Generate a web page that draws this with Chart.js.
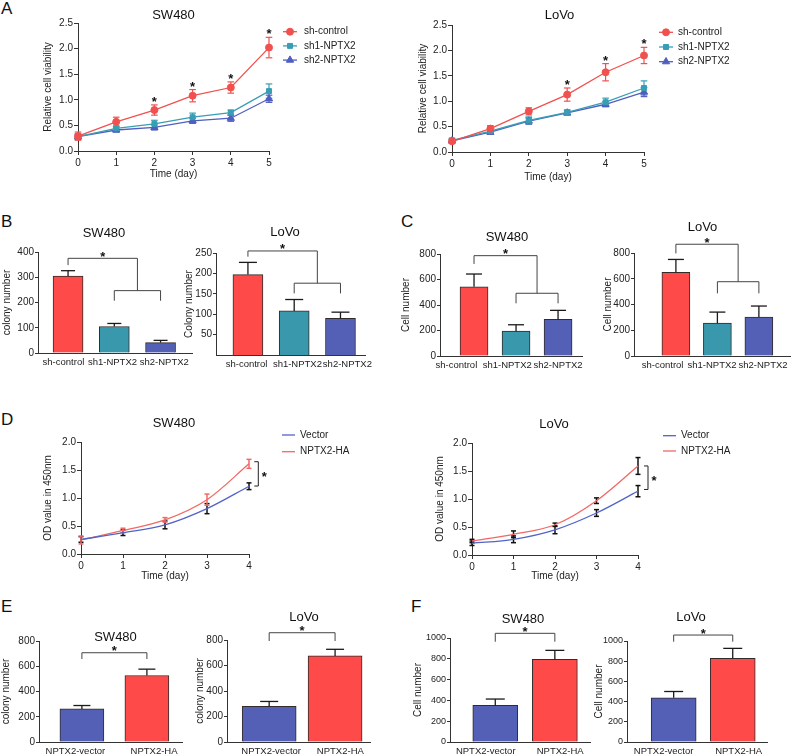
<!DOCTYPE html>
<html>
<head>
<meta charset="utf-8">
<title>NPTX2 proliferation panels</title>
<script src="https://cdn.jsdelivr.net/npm/chart.js@4.4.1/dist/chart.umd.min.js"></script>
<style>
  html, body { margin: 0; padding: 0; background: #fff; }
  #fig { position: relative; width: 792px; height: 756px; overflow: hidden; background: #fff; }
  #fig canvas { position: absolute; }
  .tag { position: absolute; font: 17px "Liberation Sans", Arial, sans-serif; line-height: 1; color: #111; }
</style>
</head>
<body>
<div id="fig">
  <div class="tag" style="left:1px;top:0px">A</div>
  <div class="tag" style="left:1px;top:213px">B</div>
  <div class="tag" style="left:401px;top:213px">C</div>
  <div class="tag" style="left:1px;top:411px">D</div>
  <div class="tag" style="left:1px;top:598px">E</div>
  <div class="tag" style="left:411px;top:598px">F</div>
</div>
<script>
// ---- data ----
const days5 = [0, 1, 2, 3, 4, 5];
const days4 = [0, 1, 2, 3, 4];
const shGroups = ['sh-control', 'sh1-NPTX2', 'sh2-NPTX2'];
const oeGroups = ['NPTX2-vector', 'NPTX2-HA'];

// A - relative cell viability
const aSwCtrl = [0.29, 0.57, 0.80, 1.08, 1.24, 2.02];
const aSwCtrlErr = [0.08, 0.09, 0.10, 0.12, 0.11, 0.20];
const aSwSh1 = [0.28, 0.44, 0.53, 0.66, 0.75, 1.17];
const aSwSh1Err = [0.05, 0.05, 0.07, 0.08, 0.05, 0.14];
const aSwSh2 = [0.28, 0.41, 0.46, 0.59, 0.64, 1.02];
const aSwSh2Err = [0.05, 0.04, 0.05, 0.05, 0.06, 0.07];
const aSwStars = [2, 3, 4, 5];

const aLvCtrl = [0.21, 0.46, 0.80, 1.13, 1.57, 1.90];
const aLvCtrlErr = [0.04, 0.06, 0.07, 0.13, 0.17, 0.16];
const aLvSh1 = [0.23, 0.41, 0.62, 0.78, 0.98, 1.26];
const aLvSh1Err = [0.04, 0.04, 0.07, 0.05, 0.08, 0.14];
const aLvSh2 = [0.22, 0.39, 0.61, 0.77, 0.94, 1.18];
const aLvSh2Err = [0.03, 0.04, 0.06, 0.04, 0.05, 0.09];
const aLvStars = [3, 4, 5];

// B - colony number
const bSwColony = [305, 105, 41];
const bSwColonyErr = [21, 12, 9];
const bSwBracket = [375, 348, 247, 207];
const bLvColony = [197, 108, 90];
const bLvColonyErr = [30, 28, 15];
const bLvBracket = [255, 241, 176, 151];

// C - cell number
const cSwCell = [543, 195, 288];
const cSwCellErr = [100, 50, 70];
const cSwBracket = [787, 722, 492, 413];
const cLvCell = [650, 255, 302];
const cLvCellErr = [100, 86, 86];
const cLvBracket = [868, 797, 577, 487];

// D - OD value in 450nm
const dSwVector = [0.26, 0.38, 0.52, 0.81, 1.21];
const dSwVectorErr = [0.05, 0.05, 0.07, 0.09, 0.06];
const dSwHA = [0.25, 0.42, 0.61, 0.97, 1.61];
const dSwHAErr = [0.07, 0.04, 0.04, 0.10, 0.08];
const dSwBracket = [4, 1.648, 1.214];
const dLvVector = [0.21, 0.28, 0.45, 0.75, 1.14];
const dLvVectorErr = [0.04, 0.06, 0.07, 0.06, 0.10];
const dLvHA = [0.25, 0.37, 0.54, 0.97, 1.59];
const dLvHAErr = [0.03, 0.06, 0.03, 0.05, 0.15];
const dLvBracket = [4, 1.59, 1.17];

// E - colony number (overexpression)
const eSwColony = [262, 527];
const eSwColonyErr = [27, 50];
const eSwBracket = [707, 657];
const eLvColony = [279, 675];
const eLvColonyErr = [39, 52];
const eLvBracket = [857, 792];

// F - cell number (overexpression)
const fSwCell = [352, 794];
const fSwCellErr = [61, 87];
const fSwBracket = [1045, 964];
const fLvCell = [437, 828];
const fLvCellErr = [63, 99];
const fLvBracket = [1059, 993];

// ---- styling ----
const FONT = '"Liberation Sans", Arial, Helvetica, sans-serif';
const RED = '#f0514e', TEAL = '#389eb4', BLUE = '#4f5ec0';
const BAR_RED = '#ff4a4a', BAR_TEAL = '#3a98ac', BAR_BLUE = '#5460b6';
const LINE_BLUE = '#5164c8', LINE_RED = '#f26864';

Chart.defaults.font.family = FONT;
Chart.defaults.font.size = 10;
Chart.defaults.color = '#222';
Chart.defaults.animation = false;
Chart.defaults.responsive = false;
Chart.defaults.plugins.legend.display = false;
Chart.defaults.plugins.tooltip.enabled = false;
Chart.defaults.events = [];

const fig = document.getElementById('fig');
const fmt1 = v => v.toFixed(1);
const fmt0 = v => String(v);

function axisY(min, max, step, title, fmt, opt) {
  opt = opt || {};
  return {
    type: 'linear', min, max,
    ticks: { stepSize: step, padding: 1, color: '#222', font: { size: opt.size || 10 }, callback: fmt },
    grid: { display: true, drawOnChartArea: false, drawTicks: true, tickLength: opt.tick || 4, color: '#333' },
    border: { display: true, color: '#333', width: 1 },
    title: { display: true, text: title, padding: 0, color: '#222', font: { size: 10 } },
    afterBuildTicks: opt.drop0 ? (s) => { s.ticks = s.ticks.filter(t => t.value !== 0); } : undefined
  };
}

function axisXLine(max) {
  return {
    type: 'linear', min: 0, max,
    ticks: { stepSize: 1, padding: 2, color: '#222', font: { size: 10 }, maxRotation: 0, callback: fmt0 },
    grid: { display: true, drawOnChartArea: false, drawTicks: true, tickLength: 4, color: '#333' },
    border: { display: true, color: '#333', width: 1 },
    title: { display: true, text: 'Time (day)', padding: 0, color: '#222', font: { size: 10 } }
  };
}

// group labels sit where the original figure put them, a little off the bar centres
function axisXBar(groups, min, max, labelAt) {
  return {
    type: 'linear', min, max, offset: false,
    afterBuildTicks: (s) => { s.ticks = labelAt.map(v => ({ value: v })); },
    ticks: { autoSkip: false, maxRotation: 0, padding: 4, color: '#222', font: { size: 9.5 }, callback: (v, i) => groups[i] },
    grid: { display: false, drawTicks: false, offset: false },
    border: { display: true, color: '#333', width: 1 }
  };
}

function lineSet(label, xs, ys, errs, color, style, extra) {
  return Object.assign({
    label,
    data: xs.map((d, i) => ({ x: d, y: ys[i] })),
    errors: errs,
    borderColor: color, backgroundColor: color, borderWidth: 1.3,
    pointStyle: style || 'circle', pointRadius: style ? 3.5 : 0, pointBorderWidth: 1,
    pointBackgroundColor: color, pointBorderColor: color,
    tension: 0, clip: false
  }, extra || {});
}

function barSet(vals, errs, colors, thick) {
  return {
    data: vals.map((v, i) => ({ x: i, y: v })),
    errors: errs,
    backgroundColor: colors, borderColor: '#332a2a', borderWidth: 1,
    barThickness: thick
  };
}

function seg(ctx, pts) {
  ctx.beginPath();
  pts.forEach((p, i) => i ? ctx.lineTo(p[0], p[1]) : ctx.moveTo(p[0], p[1]));
  ctx.stroke();
}

function star(ctx, x, yc) {
  ctx.save();
  ctx.fillStyle = '#111';
  ctx.font = 'bold 13px ' + FONT;
  ctx.textAlign = 'center';
  ctx.textBaseline = 'alphabetic';
  ctx.fillText('*', x, yc + 7.5);
  ctx.restore();
}

// titles, legends, error bars and significance marks
function deco(box, spec) {
  const cx = v => v - box.x, cy = v => v - box.y;
  return {
    id: 'deco',
    beforeDatasetsDraw(chart) {
      if (spec.kind !== 'line') return;
      const X = chart.scales.x, Y = chart.scales.y, ctx = chart.ctx;
      ctx.save();
      ctx.lineWidth = spec.errWidth;
      chart.data.datasets.forEach(ds => {
        ctx.strokeStyle = ds.errColor || ds.borderColor;
        ds.data.forEach((p, i) => {
          const e = ds.errors[i], x = X.getPixelForValue(p.x);
          const yt = Y.getPixelForValue(p.y + e), yb = Y.getPixelForValue(p.y - e);
          seg(ctx, [[x, yt], [x, yb]]);
          seg(ctx, [[x - spec.cap, yt], [x + spec.cap, yt]]);
          seg(ctx, [[x - spec.cap, yb], [x + spec.cap, yb]]);
        });
      });
      ctx.restore();
    },
    afterDatasetsDraw(chart) {
      const X = chart.scales.x, Y = chart.scales.y, ctx = chart.ctx;
      ctx.save();
      if (spec.kind === 'bar') {
        const ds = chart.data.datasets[0];
        ctx.strokeStyle = '#1a1a1a';
        ctx.lineWidth = 1.3;
        ds.data.forEach((p, i) => {
          const x = X.getPixelForValue(p.x);
          const y0 = Y.getPixelForValue(p.y), y1 = Y.getPixelForValue(p.y + ds.errors[i]);
          seg(ctx, [[x, y0], [x, y1]]);
          seg(ctx, [[x - spec.cap, y1], [x + spec.cap, y1]]);
        });
      }
      ctx.strokeStyle = '#444';
      ctx.lineWidth = 1;
      if (spec.bracket3) {
        const [top, leg, low, lowLeg] = spec.bracket3;
        const x0 = X.getPixelForValue(0), xa = X.getPixelForValue(1), xb = X.getPixelForValue(2), xm = X.getPixelForValue(1.5);
        const yT = Y.getPixelForValue(top), yL = Y.getPixelForValue(leg);
        const yLo = Y.getPixelForValue(low), yLoL = Y.getPixelForValue(lowLeg);
        seg(ctx, [[x0, yL], [x0, yT], [xm, yT], [xm, yLo]]);
        seg(ctx, [[xa, yLoL], [xa, yLo], [xb, yLo], [xb, yLoL]]);
        star(ctx, (x0 + xm) / 2, yT - 5);
      }
      if (spec.bracket2) {
        const [top, leg] = spec.bracket2;
        const x0 = X.getPixelForValue(0), x1 = X.getPixelForValue(1);
        const yT = Y.getPixelForValue(top), yL = Y.getPixelForValue(leg);
        seg(ctx, [[x0, yL], [x0, yT], [x1, yT], [x1, yL]]);
        star(ctx, (x0 + x1) / 2, yT - 5);
      }
      if (spec.side) {
        const [day, hi, lo] = spec.side;
        const x = X.getPixelForValue(day) + spec.sideOff;
        const y1 = Y.getPixelForValue(hi), y2 = Y.getPixelForValue(lo);
        ctx.strokeStyle = '#222';
        seg(ctx, [[x - 4, y1], [x, y1], [x, y2], [x - 4, y2]]);
        star(ctx, x + 6, (y1 + y2) / 2);
      }
      if (spec.stars) {
        const ds = chart.data.datasets[0];
        spec.stars.forEach(d => {
          const i = ds.data.findIndex(p => p.x === d);
          star(ctx, X.getPixelForValue(d), Y.getPixelForValue(ds.data[i].y + ds.errors[i]) - 6.5);
        });
      }
      ctx.restore();
    },
    afterDraw(chart) {
      const ctx = chart.ctx;
      ctx.save();
      if (spec.title) {
        ctx.fillStyle = '#111';
        ctx.font = '13px ' + FONT;
        ctx.textAlign = 'center';
        ctx.textBaseline = 'middle';
        ctx.fillText(spec.title[0], cx(spec.title[1]), cy(spec.title[2]));
      }
      if (spec.legend) {
        const L = spec.legend;
        chart.data.datasets.forEach((ds, i) => {
          const y = cy(L.y + i * L.dy);
          ctx.strokeStyle = ds.borderColor;
          ctx.lineWidth = 1.3;
          seg(ctx, [[cx(L.x0), y], [cx(L.x1), y]]);
          if (L.marker) {
            ctx.fillStyle = ds.backgroundColor;
            ctx.lineWidth = 1;
            Chart.helpers.drawPoint(ctx, { pointStyle: ds.pointStyle, radius: ds.pointRadius, borderWidth: 1, rotation: 0 }, cx((L.x0 + L.x1) / 2), y);
          }
          ctx.fillStyle = '#222';
          ctx.font = '10px ' + FONT;
          ctx.textAlign = 'left';
          ctx.textBaseline = 'middle';
          ctx.fillText(ds.label, cx(L.tx), y);
        });
      }
      ctx.restore();
    }
  };
}

function makeChart(box, plot, yw, xh, cfg, spec) {
  const cv = document.createElement('canvas');
  cv.width = box.w;
  cv.height = box.h;
  cv.style.left = box.x + 'px';
  cv.style.top = box.y + 'px';
  cv.style.width = box.w + 'px';
  cv.style.height = box.h + 'px';
  fig.appendChild(cv);
  cfg.options.layout = { padding: {
    left: plot.l - box.x - yw, top: plot.t - box.y,
    right: box.x + box.w - plot.r, bottom: box.y + box.h - plot.b - xh
  } };
  cfg.options.scales.y.afterFit = s => { s.width = yw; };
  cfg.options.scales.x.afterFit = s => { s.height = xh; };
  cfg.options.devicePixelRatio = 1;
  cfg.plugins = [deco(box, spec)];
  return new Chart(cv, cfg);
}

// ---- A ----
makeChart({ x: 0, y: 0, w: 396, h: 185 }, { l: 78, t: 23, r: 269, b: 151 }, 36, 29, {
  type: 'line',
  data: { datasets: [
    lineSet('sh-control', days5, aSwCtrl, aSwCtrlErr, RED, 'circle'),
    lineSet('sh1-NPTX2', days5, aSwSh1, aSwSh1Err, TEAL, 'rect'),
    lineSet('sh2-NPTX2', days5, aSwSh2, aSwSh2Err, BLUE, 'triangle', { pointRadius: 4.2 })
  ] },
  options: { scales: { x: axisXLine(5), y: axisY(0, 2.5, 0.5, 'Relative cell viability', fmt1) } }
}, { kind: 'line', title: ['SW480', 173.5, 15.5], cap: 3.3, errWidth: 1.2, stars: aSwStars,
     legend: { x0: 283, x1: 297, tx: 304, y: 31.7, dy: 14.2, marker: true } });

makeChart({ x: 396, y: 0, w: 396, h: 185 }, { l: 452, t: 25, r: 644, b: 152 }, 35, 31, {
  type: 'line',
  data: { datasets: [
    lineSet('sh-control', days5, aLvCtrl, aLvCtrlErr, RED, 'circle'),
    lineSet('sh1-NPTX2', days5, aLvSh1, aLvSh1Err, TEAL, 'rect'),
    lineSet('sh2-NPTX2', days5, aLvSh2, aLvSh2Err, BLUE, 'triangle', { pointRadius: 4.2 })
  ] },
  options: { scales: { x: axisXLine(5), y: axisY(0, 2.5, 0.5, 'Relative cell viability', fmt1) } }
}, { kind: 'line', title: ['LoVo', 559.5, 15], cap: 3.3, errWidth: 1.2, stars: aLvStars,
     legend: { x0: 659, x1: 673, tx: 678, y: 32.3, dy: 14.7, marker: true } });

// ---- B ----
makeChart({ x: 0, y: 190, w: 200, h: 190 }, { l: 38, t: 252, r: 192, b: 353 }, 37, 20, {
  type: 'bar',
  data: { datasets: [barSet(bSwColony, bSwColonyErr, [BAR_RED, BAR_TEAL, BAR_BLUE], 30)] },
  options: { scales: { x: axisXBar(shGroups, -0.65, 2.68, [-0.10, 0.96, 2.08]),
                       y: axisY(0, 400, 100, 'colony number', fmt0, { tick: 3 }) } }
}, { kind: 'bar', title: ['SW480', 104, 233], cap: 7, bracket3: bSwBracket });

makeChart({ x: 180, y: 190, w: 200, h: 190 }, { l: 216, t: 253, r: 365, b: 355 }, 33, 20, {
  type: 'bar',
  data: { datasets: [barSet(bLvColony, bLvColonyErr, [BAR_RED, BAR_TEAL, BAR_BLUE], 30)] },
  options: { scales: { x: axisXBar(shGroups, -0.69, 2.53, [-0.03, 1.07, 2.15]),
                       y: axisY(0, 250, 50, 'Colony number', fmt0, { tick: 3, drop0: true }) } }
}, { kind: 'bar', title: ['LoVo', 285, 232], cap: 9, bracket3: bLvBracket });

// ---- C ----
makeChart({ x: 400, y: 190, w: 190, h: 190 }, { l: 440, t: 254, r: 582, b: 356 }, 40, 20, {
  type: 'bar',
  data: { datasets: [barSet(cSwCell, cSwCellErr, [BAR_RED, BAR_TEAL, BAR_BLUE], 28)] },
  options: { scales: { x: axisXBar(shGroups, -0.81, 2.57, [-0.42, 0.79, 2.0]),
                       y: axisY(0, 800, 200, 'Cell number', fmt0, { tick: 3 }) } }
}, { kind: 'bar', title: ['SW480', 507, 237], cap: 8, bracket3: cSwBracket });

makeChart({ x: 592, y: 190, w: 200, h: 190 }, { l: 634, t: 253, r: 790, b: 356 }, 32, 20, {
  type: 'bar',
  data: { datasets: [barSet(cLvCell, cLvCellErr, [BAR_RED, BAR_TEAL, BAR_BLUE], 28)] },
  options: { scales: { x: axisXBar(shGroups, -1.01, 2.75, [-0.32, 0.87, 2.10]),
                       y: axisY(0, 800, 200, 'Cell number', fmt0, { tick: 3 }) } }
}, { kind: 'bar', title: ['LoVo', 702.5, 227], cap: 8, bracket3: cLvBracket });

// ---- D ----
makeChart({ x: 0, y: 390, w: 396, h: 200 }, { l: 81, t: 442, r: 249, b: 554 }, 39, 28, {
  type: 'line',
  data: { datasets: [
    lineSet('Vector', days4, dSwVector, dSwVectorErr, LINE_BLUE, null, { cubicInterpolationMode: 'monotone', errColor: '#111' }),
    lineSet('NPTX2-HA', days4, dSwHA, dSwHAErr, LINE_RED, null, { cubicInterpolationMode: 'monotone' })
  ] },
  options: { scales: { x: axisXLine(4), y: axisY(0, 2.0, 0.5, 'OD value in 450nm', fmt1) } }
}, { kind: 'line', title: ['SW480', 174, 423], cap: 2.5, errWidth: 1.5, side: dSwBracket, sideOff: 9.3,
     legend: { x0: 282, x1: 295, tx: 300, y: 435, dy: 16.7, marker: false } });

makeChart({ x: 396, y: 390, w: 396, h: 200 }, { l: 472, t: 443, r: 638, b: 555 }, 38, 27, {
  type: 'line',
  data: { datasets: [
    lineSet('Vector', days4, dLvVector, dLvVectorErr, LINE_BLUE, null, { cubicInterpolationMode: 'monotone', errColor: '#111' }),
    lineSet('NPTX2-HA', days4, dLvHA, dLvHAErr, LINE_RED, null, { cubicInterpolationMode: 'monotone', errColor: '#111' })
  ] },
  options: { scales: { x: axisXLine(4), y: axisY(0, 2.0, 0.5, 'OD value in 450nm', fmt1) } }
}, { kind: 'line', title: ['LoVo', 554, 424], cap: 2.5, errWidth: 1.5, side: dLvBracket, sideOff: 10,
     legend: { x0: 663, x1: 676, tx: 681, y: 435.7, dy: 15.3, marker: false } });

// ---- E ----
makeChart({ x: 0, y: 595, w: 200, h: 161 }, { l: 39, t: 641, r: 182, b: 742 }, 39, 14, {
  type: 'bar',
  data: { datasets: [barSet(eSwColony, eSwColonyErr, [BAR_BLUE, BAR_RED], 44)] },
  options: { scales: { x: axisXBar(oeGroups, -0.66, 1.54, [-0.10, 1.11]),
                       y: axisY(0, 800, 200, 'colony number', fmt0, { tick: 3 }) } }
}, { kind: 'bar', title: ['SW480', 115.5, 637], cap: 8.5, bracket2: eSwBracket });

makeChart({ x: 190, y: 595, w: 200, h: 161 }, { l: 227, t: 640, r: 370, b: 742 }, 33, 14, {
  type: 'bar',
  data: { datasets: [barSet(eLvColony, eLvColonyErr, [BAR_BLUE, BAR_RED], 54)] },
  options: { scales: { x: axisXBar(oeGroups, -0.64, 1.53, [0.03, 1.08]),
                       y: axisY(0, 800, 200, 'colony number', fmt0, { tick: 3 }) } }
}, { kind: 'bar', title: ['LoVo', 304, 617], cap: 9, bracket2: eLvBracket });

// ---- F ----
makeChart({ x: 400, y: 595, w: 200, h: 161 }, { l: 450, t: 638, r: 590, b: 742 }, 38, 14, {
  type: 'bar',
  data: { datasets: [barSet(fSwCell, fSwCellErr, [BAR_BLUE, BAR_RED], 45)] },
  options: { scales: { x: axisXBar(oeGroups, -0.76, 1.59, [-0.16, 1.09]),
                       y: axisY(0, 1000, 200, 'Cell number', fmt0, { tick: 3, size: 9 }) } }
}, { kind: 'bar', title: ['SW480', 523, 619], cap: 9.5, bracket2: fSwBracket });

makeChart({ x: 590, y: 595, w: 202, h: 161 }, { l: 627, t: 641, r: 767, b: 742 }, 34, 14, {
  type: 'bar',
  data: { datasets: [barSet(fLvCell, fLvCellErr, [BAR_BLUE, BAR_RED], 45)] },
  options: { scales: { x: axisXBar(oeGroups, -0.79, 1.58, [-0.17, 1.10]),
                       y: axisY(0, 1000, 200, 'Cell number', fmt0, { tick: 3, size: 9 }) } }
}, { kind: 'bar', title: ['LoVo', 691, 617], cap: 9.5, bracket2: fLvBracket });
</script>
</body>
</html>
